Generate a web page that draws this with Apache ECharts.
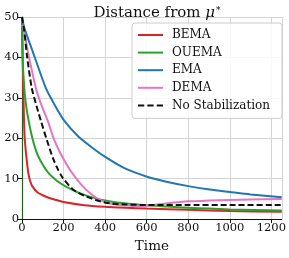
<!DOCTYPE html>
<html>
<head>
<meta charset="utf-8">
<script src="https://cdn.jsdelivr.net/npm/echarts@6/dist/echarts.min.js"></script>
<style>html,body{margin:0;padding:0;background:#fff}#c{width:289px;height:258px}</style>
</head>
<body>
<div id="c"></div>
<script>
var xTicks = [0, 200, 400, 600, 800, 1000, 1200];
var yTicks = [0, 10, 20, 30, 40, 50];
var seriesNames = ['BEMA', 'OUEMA', 'EMA', 'DEMA', 'No Stabilization'];

var bemaData = [[0,50],[4,38],[8,28],[12,21],[17,17.5],[22,15],[30,11.5],[40,9.3],[50,8.1],[75,6.6],[100,5.9],[125,5.35],[160,4.8],[200,4.25],[300,3.45],[400,3.05],[500,2.8],[600,2.6],[800,2.3],[1000,2.0],[1250,1.8]];
var ouemaData = [[0,50],[3,40],[10,33],[20,28],[35,23.5],[50,20],[67,17],[85,14.8],[124,11.6],[160,9.8],[196,8.5],[240,7.3],[284,6.3],[330,5.5],[400,4.6],[493,3.9],[600,3.4],[700,3.1],[800,2.8],[900,2.6],[1000,2.4],[1250,2.1]];
var emaData = [[0,50],[11,47.3],[50,41.7],[115,32.4],[160,28],[204,24.3],[270,20.5],[332,17.9],[397,15.5],[493,12.6],[613,10.3],[700,9.2],[807,8.1],[903,7.3],[1000,6.7],[1100,6.1],[1250,5.4]];
var demaData = [[0,48],[8,46.9],[30,41],[67,32.4],[95,28],[124,24.3],[150,20.3],[180,16.8],[204,14.5],[236,11.8],[284,8.6],[332,6.2],[381,4.6],[430,3.8],[485,3.4],[550,3.2],[600,3.3],[700,3.9],[800,4.4],[900,4.6],[1000,4.75],[1100,4.85],[1250,4.95]];
var noStabData = [[0,50],[11,46.5],[25,40],[47,32.4],[70,28],[91,24.3],[120,19.5],[148,15.2],[170,12.6],[196,10.2],[244,7.4],[300,5.8],[364,4.6],[421,3.9],[500,3.6],[600,3.5],[800,3.5],[1000,3.5],[1250,3.5]];

var colors = ['#d62728', '#2ca02c', '#1f77b4', '#e377c2', '#111111'];
var allData = [bemaData, ouemaData, emaData, demaData, noStabData];
var FONT = '"DejaVu Serif", "Liberation Serif", serif';
var solidIcon = 'path://M0,0h25v2h-25z';
var dashIcon = 'path://M0,0h6v2h-6z M9,0h6v2h-6z M18,0h6v2h-6z';

var chart = echarts.init(document.getElementById('c'), null, {renderer: 'canvas'});
chart.setOption({
  animation: false,
  title: {
    text: '{a|Distance from }{m|μ}{s|*}',
    left: 152,
    top: 1,
    textAlign: 'center',
    textStyle: {
      fontWeight: 'normal',
      rich: {
        a: {fontFamily: FONT, fontSize: 15, fontWeight: 'normal', color: '#111'},
        m: {fontFamily: FONT, fontSize: 15, fontWeight: 'normal', fontStyle: 'italic', color: '#111'},
        s: {fontFamily: FONT, fontSize: 9, fontWeight: 'normal', color: '#111', verticalAlign: 'top', padding: [0, 0, 6, 1]}
      }
    }
  },
  grid: {left: 22, right: 7, top: 17, bottom: 34, containLabel: false},
  legend: {
    orient: 'vertical',
    left: 132,
    top: 23,
    padding: [6, 12, 7, 6],
    itemWidth: 25,
    itemHeight: 2,
    itemGap: 5.6,
    symbolKeepAspect: false,
    backgroundColor: 'rgba(255,255,255,0.85)',
    borderColor: '#cccccc',
    borderWidth: 1,
    borderRadius: 3,
    textStyle: {fontFamily: FONT, fontSize: 12, color: '#111', padding: [0, 0, 0, 4], lineHeight: 12},
    data: seriesNames.map(function (n, i) {
      return {name: n, icon: i === 4 ? dashIcon : solidIcon, itemStyle: {color: colors[i]}};
    })
  },
  xAxis: {
    type: 'value',
    min: 0,
    max: 1250,
    interval: 200,
    name: 'Time',
    nameLocation: 'middle',
    nameGap: 14,
    nameTextStyle: {fontFamily: FONT, fontSize: 13.5, color: '#111', verticalAlign: 'top'},
    axisLine: {show: true, onZero: false, lineStyle: {color: '#111', width: 1.2}},
    axisTick: {show: true, length: 4, lineStyle: {color: '#111'}},
    axisLabel: {
      fontFamily: FONT, fontSize: 11.5, color: '#111', margin: 3, showMaxLabel: false,
      formatter: function (v) { return xTicks.indexOf(v) >= 0 ? String(v) : ''; }
    },
    splitLine: {show: true, lineStyle: {color: '#d4d4d4', width: 1}}
  },
  yAxis: {
    type: 'value',
    min: 0,
    max: 50,
    interval: 10,
    axisLine: {show: true, onZero: false, lineStyle: {color: '#1f5f1f', width: 1.2}},
    axisTick: {show: true, length: 4, lineStyle: {color: '#111'}},
    axisLabel: {
      fontFamily: FONT, fontSize: 11.5, color: '#111', margin: 3,
      formatter: function (v) { return yTicks.indexOf(v) >= 0 ? String(v) : ''; }
    },
    splitLine: {show: true, lineStyle: {color: '#d4d4d4', width: 1}}
  },
  series: seriesNames.map(function (n, i) {
    return {
      name: n,
      type: 'line',
      data: allData[i],
      showSymbol: false,
      symbol: 'none',
      smooth: 0.25,
      clip: true,
      z: i === 4 ? 5 : 2,
      itemStyle: {color: colors[i]},
      lineStyle: {color: colors[i], width: 2, type: i === 4 ? [6, 3] : 'solid'}
    };
  })
});
</script>
</body>
</html>
